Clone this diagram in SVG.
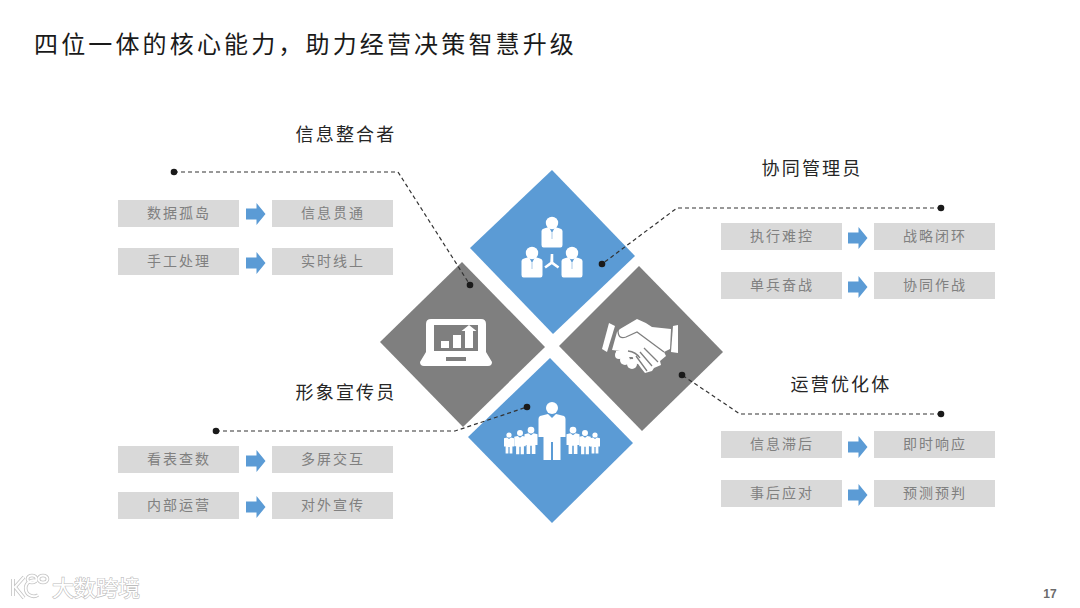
<svg xmlns="http://www.w3.org/2000/svg" width="1080" height="608" viewBox="0 0 1080 608">
<defs>
<style>
text{font-family:"Noto Sans CJK SC","Liberation Sans",sans-serif}
.title{font-size:24px;fill:#1a1a1a;letter-spacing:3.150px}
.head{font-size:18px;fill:#262626;letter-spacing:2.2px;text-anchor:middle}
.lab{font-size:14px;fill:#808080;letter-spacing:2px;text-anchor:middle}
.box{fill:#d9d9d9}
.blue{fill:#5b9bd5}
.grey{fill:#7f7f7f}
.ic{fill:#fff}
.icg{fill:#7f7f7f}
.tie{fill:none;stroke:#a9c8e6;stroke-width:1}
.dash{fill:none;stroke:#333;stroke-width:1.2;stroke-dasharray:4 3}
.dot{fill:#1a1a1a}
.wm{font-size:22px;fill:#fff;stroke:#bdbdbd;stroke-width:1.200;paint-order:stroke}
.wml{fill:none;stroke:#c4c4c4;stroke-width:3.600}
.wmw{fill:none;stroke:#fff;stroke-width:2}
</style>
<path id="arr" class="blue" d="M0-5.500H10.500V-11L19.500 0 10.500 11V5.500H0Z"/>
<g id="man"><circle cx="0" cy="-9" r="6.200"/><path d="M-10.500-1Q-10.500-3-8-3.500L-3-5 0 1 3-5 8-3.500Q10.500-3 10.500-1V13Q10.500 15.500 8.500 15.500H-8.500Q-10.500 15.500-10.500 13Z"/><path class="tie" d="M0 1V7"/></g>
<g id="fig"><circle cx="0" cy="-6.500" r="2.600"/><path d="M-5-3.200-2-4 0-2.500 2-4 5-3.200V5H3.400V12H.6V5.500H-.6V12H-3.400V5H-5Z"/></g>
</defs>
<rect width="1080" height="608" fill="#fff"/>
<text class="title" x="34" y="53">四位一体的核心能力，助力经营决策智慧升级</text>

<g id="node-top">
<polygon class="blue" points="552,170 635,256 553,334 470,248"/>
<g class="ic"><use href="#man" transform="translate(552,232)"/><use href="#man" transform="translate(532,262)"/><use href="#man" transform="translate(572,262)"/>
<path d="M550.700 254h2.600v8l6 4.500-1.500 2-6-4.300-6 4.300-1.500-2 6-4.500Z"/></g>
</g>
<g id="node-left">
<polygon class="grey" points="462,262 545,347 463,427 380,342"/>
<path class="ic" d="M431 319H481Q486 319 486 324V352L492 362Q492 366 488 366H424Q420 366 420 362L426 352V324Q426 319 431 319Z"/>
<rect class="icg" x="434" y="325" width="44" height="26"/>
<rect class="icg" x="446" y="357" width="20" height="4"/>
<g class="ic"><rect x="441" y="341" width="8" height="7"/><rect x="453" y="335" width="8" height="13"/><path d="M465 348V331H461.500L469 325 476.500 331H473V348Z"/></g>
</g>
<g id="node-right">
<polygon class="grey" points="639,266 723,352 642,431 559,346"/>
<g class="ic">
<path d="M609 323 615 326 607 352 602 349Z"/>
<path d="M673 326 678 325 678 353 671 352Z"/>
<path d="M620 329 637 319Q645 322 652 327L671 329 670 349 664 352 666 356 660 361 661 365 654 368 652 371 645 373 641 368 636 361 628 352 612 350 617 332Z"/>
<circle cx="619" cy="355" r="4"/><circle cx="625" cy="360" r="5"/><circle cx="632" cy="364" r="5"/><circle cx="638" cy="359" r="5"/>
<rect x="616" y="351" width="22" height="6"/>
</g>
<path d="M618 330Q618 340 626 337L637 332 664 352M644 348 658 362M640 352 652 366M636 356 647 371M628 351 Q636 352 640 358" fill="none" stroke="#7f7f7f" stroke-width="1.300"/>
</g>
<g id="node-bottom">
<polygon class="blue" points="550,358 633,443 552,523 468,437"/>
<g class="ic">
<circle cx="552" cy="408" r="6"/><path d="M540 416 548 414 552 418 556 414 564 416Q565.500 417 565.500 419V437H560.500V460H553V442H551V460H543.500V437H538.500V419Q538.500 417 540 416Z"/>
<use href="#fig" transform="translate(509,441.500)"/><use href="#fig" transform="translate(520,440.500) scale(1.150)"/><use href="#fig" transform="translate(531,438.500) scale(1.300)"/>
<use href="#fig" transform="translate(573,438.500) scale(1.300)"/><use href="#fig" transform="translate(585,440.500) scale(1.150)"/><use href="#fig" transform="translate(595,441.500)"/>
</g>
</g>

<g id="connectors">
<path class="dash" d="M174 172H398L470 285"/>
<path class="dash" d="M941 208H677L602 264"/>
<path class="dash" d="M941 414H740L682 375"/>
<path class="dash" d="M216 431H455L527 407"/>
<g class="dot"><circle cx="174" cy="172" r="3.300"/><circle cx="470" cy="285" r="3.300"/><circle cx="941" cy="208" r="3.300"/><circle cx="602" cy="264" r="3.300"/><circle cx="941" cy="414" r="3.300"/><circle cx="682" cy="375" r="3.300"/><circle cx="216" cy="431" r="3.300"/><circle cx="527" cy="407" r="3.300"/></g>
<use href="#arr" x="246" y="214"/><use href="#arr" x="246" y="263"/>
<use href="#arr" x="848" y="238"/><use href="#arr" x="848" y="287"/>
<use href="#arr" x="848" y="447"/><use href="#arr" x="848" y="495"/>
<use href="#arr" x="246" y="461"/><use href="#arr" x="246" y="507"/>
</g>

<g id="group-tl">
<text class="head" x="346" y="141">信息整合者</text>
<g id="n1"><rect class="box" x="118" y="200" width="121" height="27"/><text class="lab" x="179" y="218">数据孤岛</text></g>
<g id="n2"><rect class="box" x="272" y="200" width="121" height="27"/><text class="lab" x="333" y="218">信息贯通</text></g>
<g id="n3"><rect class="box" x="118" y="248" width="121" height="27"/><text class="lab" x="179" y="266">手工处理</text></g>
<g id="n4"><rect class="box" x="272" y="248" width="121" height="27"/><text class="lab" x="333" y="266">实时线上</text></g>
</g>
<g id="group-tr">
<text class="head" x="812" y="175">协同管理员</text>
<g id="n5"><rect class="box" x="721" y="223" width="121" height="27"/><text class="lab" x="782" y="241">执行难控</text></g>
<g id="n6"><rect class="box" x="874" y="223" width="121" height="27"/><text class="lab" x="935" y="241">战略闭环</text></g>
<g id="n7"><rect class="box" x="721" y="272" width="121" height="27"/><text class="lab" x="782" y="290">单兵奋战</text></g>
<g id="n8"><rect class="box" x="874" y="272" width="121" height="27"/><text class="lab" x="935" y="290">协同作战</text></g>
</g>
<g id="group-bl">
<text class="head" x="346" y="399">形象宣传员</text>
<g id="n9"><rect class="box" x="118" y="446" width="121" height="27"/><text class="lab" x="179" y="464">看表查数</text></g>
<g id="n10"><rect class="box" x="272" y="446" width="121" height="27"/><text class="lab" x="333" y="464">多屏交互</text></g>
<g id="n11"><rect class="box" x="118" y="492" width="121" height="27"/><text class="lab" x="179" y="510">内部运营</text></g>
<g id="n12"><rect class="box" x="272" y="492" width="121" height="27"/><text class="lab" x="333" y="510">对外宣传</text></g>
</g>
<g id="group-br">
<text class="head" x="841" y="391">运营优化体</text>
<g id="n13"><rect class="box" x="721" y="431" width="121" height="27"/><text class="lab" x="782" y="449">信息滞后</text></g>
<g id="n14"><rect class="box" x="874" y="431" width="121" height="27"/><text class="lab" x="935" y="449">即时响应</text></g>
<g id="n15"><rect class="box" x="721" y="480" width="121" height="27"/><text class="lab" x="782" y="498">事后应对</text></g>
<g id="n16"><rect class="box" x="874" y="480" width="121" height="27"/><text class="lab" x="935" y="498">预测预判</text></g>
</g>

<g id="watermark">
<path class="wml" d="M13 579V596M24 577 15 587 24 598M37 581A8 8 0 1 0 38 595"/>
<ellipse class="wml" cx="32" cy="579" rx="4.500" ry="3.500"/><ellipse class="wml" cx="43" cy="579" rx="4.500" ry="3.500"/>
<path class="wmw" d="M13 579V596M24 577 15 587 24 598M37 581A8 8 0 1 0 38 595"/>
<ellipse class="wmw" cx="32" cy="579" rx="4.500" ry="3.500"/><ellipse class="wmw" cx="43" cy="579" rx="4.500" ry="3.500"/>
<text class="wm" x="52" y="596">大数跨境</text>
</g>
<text x="1050" y="598" text-anchor="middle" style="font-family:'Liberation Sans',sans-serif;font-size:12px;font-weight:700;fill:#6b6b6b">17</text>
</svg>
